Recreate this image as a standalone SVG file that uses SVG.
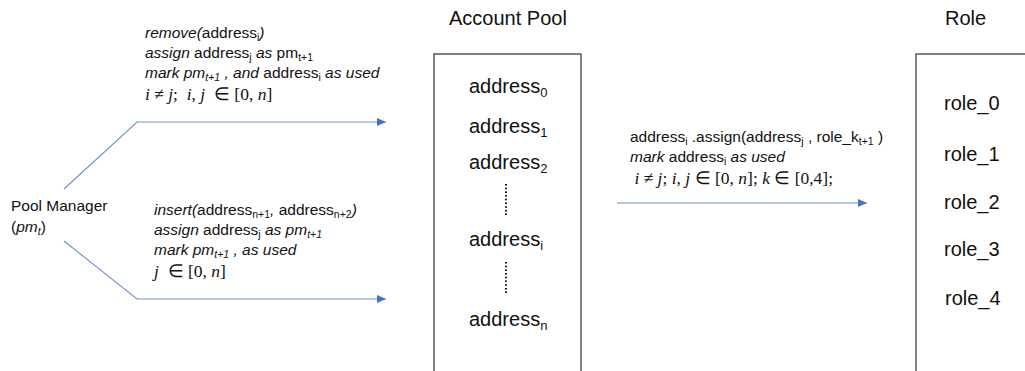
<svg xmlns="http://www.w3.org/2000/svg" width="1025" height="371" viewBox="0 0 1025 371">
<style>
text{font-family:"Liberation Sans",Arial,sans-serif;fill:#111}
.lbl{font-size:15.5px}
.big{font-size:20px}
.it{font-style:italic}
.up{font-style:normal}
.sub{font-size:10.5px}
.bsub{font-size:13px}
.m{font-family:"Liberation Serif","Times New Roman",serif;font-size:17.5px;white-space:pre}
.mi{font-style:italic}
.box{fill:#fff;stroke:#404040;stroke-width:1.3}
.conn{fill:none;stroke:#6f8fd0;stroke-width:1.1}
.dots{stroke:#111;stroke-width:2;stroke-dasharray:1.5 2.2}
</style>
<defs>
<marker id="arr" markerWidth="10" markerHeight="10" refX="9" refY="5" orient="auto" markerUnits="userSpaceOnUse">
<path d="M0,1 L9,5 L0,9 Z" fill="#4472c4"/>
</marker>
</defs>

<g id="connectors">
<path class="conn" d="M64,189 L137,122 L386,122" marker-end="url(#arr)"/>
<path class="conn" d="M64,241 L137,299 L386,299" marker-end="url(#arr)"/>
<path class="conn" d="M617,203 L867,203" marker-end="url(#arr)"/>
</g>

<g id="pool-manager">
<text class="lbl" x="11" y="211">Pool Manager</text>
<text class="lbl" x="11" y="232">(<tspan class="it">pm</tspan><tspan class="it sub" dy="3">t</tspan><tspan dy="-3">)</tspan></text>
</g>

<g id="label-remove">
<text class="lbl it" x="145" y="38">remove(<tspan class="up">address</tspan><tspan class="up sub" dy="3">i</tspan><tspan dy="-3">)</tspan></text>
<text class="lbl" x="145" y="58"><tspan class="it">assign</tspan> address<tspan class="sub" dy="3">j</tspan><tspan class="it" dy="-3"> as</tspan> pm<tspan class="sub" dy="3">t+1</tspan></text>
<text class="lbl it" x="145" y="78">mark pm<tspan class="sub" dy="3">t+1</tspan><tspan dy="-3"> , and </tspan><tspan class="up">address</tspan><tspan class="up sub" dy="3">i</tspan><tspan dy="-3"> as used</tspan></text>
<text class="m" x="145" y="100"><tspan class="mi">i</tspan> ≠ <tspan class="mi">j</tspan>;  <tspan class="mi">i</tspan>, <tspan class="mi">j</tspan>  ∈ [0, <tspan class="mi">n</tspan>]</text>
</g>

<g id="label-insert">
<text class="lbl it" x="154" y="215">insert(<tspan class="up">address</tspan><tspan class="up sub" dy="3">n+1</tspan><tspan dy="-3">, </tspan><tspan class="up">address</tspan><tspan class="up sub" dy="3">n+2</tspan><tspan dy="-3">)</tspan></text>
<text class="lbl" x="154" y="235"><tspan class="it">assign</tspan> address<tspan class="sub" dy="3">j</tspan><tspan class="it" dy="-3"> as pm</tspan><tspan class="it sub" dy="3">t+1</tspan></text>
<text class="lbl it" x="154" y="255">mark pm<tspan class="sub" dy="3">t+1</tspan><tspan dy="-3"> , as used</tspan></text>
<text class="m" x="154" y="277"><tspan class="mi">j</tspan>  ∈ [0, <tspan class="mi">n</tspan>]</text>
</g>

<g id="label-assign">
<text class="lbl" x="630" y="142">address<tspan class="sub" dy="3">i</tspan><tspan dy="-3"> .assign(address</tspan><tspan class="sub" dy="3">j</tspan><tspan dy="-3"> , role_k</tspan><tspan class="sub" dy="3">t+1</tspan><tspan dy="-3"> )</tspan></text>
<text class="lbl" x="630" y="162"><tspan class="it">mark</tspan> address<tspan class="sub" dy="3">i</tspan><tspan class="it" dy="-3"> as used</tspan></text>
<text class="m" x="630" y="184"> <tspan class="mi">i</tspan> ≠ <tspan class="mi">j</tspan>; <tspan class="mi">i</tspan>, <tspan class="mi">j</tspan> ∈ [0, <tspan class="mi">n</tspan>]; <tspan class="mi">k</tspan> ∈ [0,4];</text>
</g>

<g id="account-pool">
<text class="big" x="449" y="25">Account Pool</text>
<rect class="box" x="434" y="54" width="147" height="330"/>
<text class="big" x="469" y="93">address<tspan class="bsub" dy="4">0</tspan></text>
<text class="big" x="469" y="133">address<tspan class="bsub" dy="4">1</tspan></text>
<text class="big" x="469" y="169">address<tspan class="bsub" dy="4">2</tspan></text>
<line class="dots" x1="506" y1="184" x2="506" y2="217"/>
<text class="big" x="469" y="246">address<tspan class="bsub" dy="4">i</tspan></text>
<line class="dots" x1="506" y1="262" x2="506" y2="295"/>
<text class="big" x="469" y="326">address<tspan class="bsub" dy="4">n</tspan></text>
</g>

<g id="role">
<text class="big" x="945" y="25">Role</text>
<rect class="box" x="916" y="54" width="130" height="330"/>
<text class="big" x="944" y="110">role_0</text>
<text class="big" x="944" y="161">role_1</text>
<text class="big" x="944" y="209">role_2</text>
<text class="big" x="944" y="256">role_3</text>
<text class="big" x="945" y="305">role_4</text>
</g>
</svg>
